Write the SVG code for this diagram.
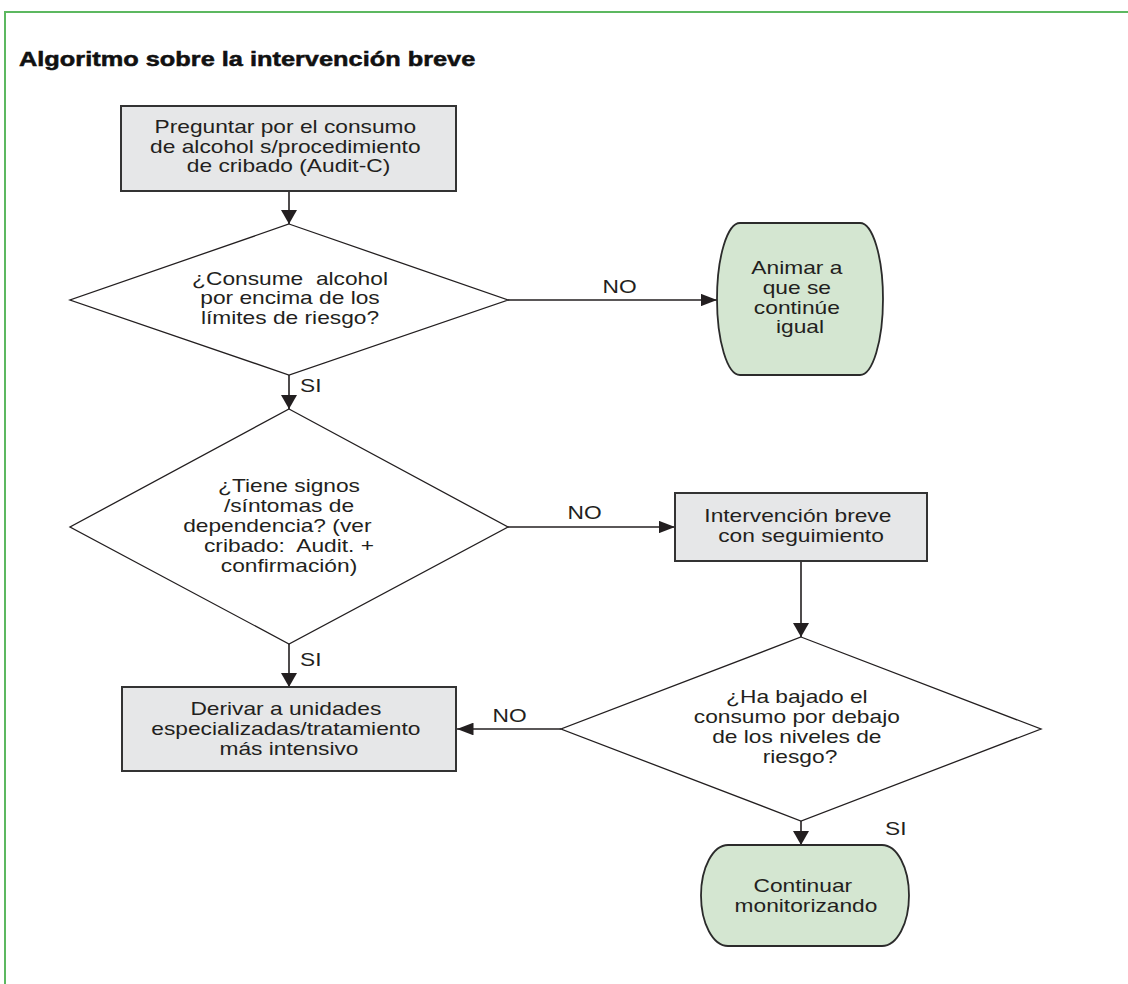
<svg xmlns="http://www.w3.org/2000/svg" width="1128" height="984" viewBox="0 0 1128 984">
<style>
.bg{fill:#ffffff}
.frame{fill:none;stroke:#5cb860;stroke-width:2}
.box{fill:#e6e7e8;stroke:#333333;stroke-width:2}
.term{fill:#d4e6d1;stroke:#2b2b2b;stroke-width:1.8}
.dia{fill:#ffffff;stroke:#231f20;stroke-width:1.3}
.conn{fill:none;stroke:#231f20;stroke-width:1.6}
.t{font-family:"Liberation Sans",Arial,Helvetica,sans-serif;font-size:17.5px;fill:#231f20;text-anchor:middle}
.lbl{font-family:"Liberation Sans",Arial,Helvetica,sans-serif;font-size:17.5px;fill:#231f20}
.title{font-family:"Liberation Sans",Arial,Helvetica,sans-serif;font-size:19.5px;font-weight:bold;fill:#111111;stroke:#111111;stroke-width:0.5}
</style>
<defs>
<marker id="av" viewBox="0 0 14 16" refX="14" refY="8" markerWidth="14" markerHeight="16" markerUnits="userSpaceOnUse" orient="auto">
<path d="M0,0 L14,8 L0,16 Z" fill="#231f20"/>
</marker>
<marker id="ah" viewBox="0 0 16.5 12.7" refX="16.5" refY="6.35" markerWidth="16.5" markerHeight="12.7" markerUnits="userSpaceOnUse" orient="auto">
<path d="M0,0 L16.5,6.35 L0,12.7 Z" fill="#231f20"/>
</marker>
</defs>
<rect class="bg" x="0" y="0" width="1128" height="984"/>
<path class="frame" d="M5,984 V12 H1128"/>
<text class="title" transform="translate(19,0) scale(1.3,1)" x="0" y="66.5">Algoritmo sobre la intervención breve</text>

<g id="connectors">
<line class="conn" x1="289" y1="191" x2="289" y2="224" marker-end="url(#av)"/>
<line class="conn" x1="508" y1="300" x2="717" y2="300" marker-end="url(#ah)"/>
<line class="conn" x1="289" y1="375" x2="289" y2="409" marker-end="url(#av)"/>
<line class="conn" x1="508" y1="527" x2="675" y2="527" marker-end="url(#ah)"/>
<line class="conn" x1="289" y1="644" x2="289" y2="687" marker-end="url(#av)"/>
<line class="conn" x1="801" y1="561" x2="801" y2="637" marker-end="url(#av)"/>
<line class="conn" x1="561" y1="729" x2="457" y2="729" marker-end="url(#ah)"/>
<line class="conn" x1="801" y1="821" x2="801" y2="845" marker-end="url(#av)"/>
<text class="lbl" transform="translate(619.5,0) scale(1.3,1)" x="0" y="293" text-anchor="middle">NO</text>
<text class="lbl" transform="translate(300,0) scale(1.3,1)" x="0" y="392">SI</text>
<text class="lbl" transform="translate(584.5,0) scale(1.3,1)" x="0" y="519" text-anchor="middle">NO</text>
<text class="lbl" transform="translate(300,0) scale(1.3,1)" x="0" y="666">SI</text>
<text class="lbl" transform="translate(509.5,0) scale(1.3,1)" x="0" y="722" text-anchor="middle">NO</text>
<text class="lbl" transform="translate(885,0) scale(1.3,1)" x="0" y="835">SI</text>
</g>

<g id="n-preguntar">
<rect class="box" x="121" y="106" width="335" height="85"/>
<text class="t" transform="translate(288.5,0) scale(1.3,1)">
<tspan x="0" y="133">Preguntar por el consumo</tspan>
<tspan x="0" y="153">de alcohol s/procedimiento</tspan>
<tspan x="0" y="172.5">de cribado (Audit-C)</tspan>
</text>
</g>

<g id="d-consume">
<polygon class="dia" points="289,224 508,300 289,375 70,300"/>
<text class="t" transform="translate(290,0) scale(1.3,1)" xml:space="preserve"><tspan x="0" y="285">¿Consume  alcohol</tspan><tspan x="0" y="304.5">por encima de los</tspan><tspan x="0" y="324">límites de riesgo?</tspan></text>
</g>

<g id="n-animar">
<rect class="term" x="717" y="223" width="166" height="152" rx="23" ry="76"/>
<text class="t" transform="translate(800,0) scale(1.3,1)">
<tspan x="0" y="274">Animar a</tspan>
<tspan x="0" y="294">que se</tspan>
<tspan x="0" y="314">continúe</tspan>
<tspan x="0" y="333">igual</tspan>
</text>
</g>

<g id="d-dependencia">
<polygon class="dia" points="289,409 508,527 289,644 70,527"/>
<text class="t" transform="translate(289,0) scale(1.3,1)" xml:space="preserve"><tspan x="0" y="492">¿Tiene signos</tspan><tspan x="0" y="512">/síntomas de</tspan><tspan x="-9" y="532">dependencia? (ver</tspan><tspan x="0" y="552">cribado:  Audit. +</tspan><tspan x="0" y="572">confirmación)</tspan></text>
</g>

<g id="n-intervencion">
<rect class="box" x="675" y="493" width="252" height="68"/>
<text class="t" transform="translate(801,0) scale(1.3,1)">
<tspan x="0" y="522">Intervención breve</tspan>
<tspan x="0" y="542">con seguimiento</tspan>
</text>
</g>

<g id="n-derivar">
<rect class="box" x="122" y="687" width="334" height="84"/>
<text class="t" transform="translate(289,0) scale(1.3,1)">
<tspan x="0" y="715">Derivar a unidades</tspan>
<tspan x="0" y="735">especializadas/tratamiento</tspan>
<tspan x="0" y="755">más intensivo</tspan>
</text>
</g>

<g id="d-bajado">
<polygon class="dia" points="801,637 1041,729 801,821 561,729"/>
<text class="t" transform="translate(800,0) scale(1.3,1)">
<tspan x="0" y="703">¿Ha bajado el</tspan>
<tspan x="0" y="723">consumo por debajo</tspan>
<tspan x="0" y="743">de los niveles de</tspan>
<tspan x="0" y="763">riesgo?</tspan>
</text>
</g>

<g id="n-continuar">
<rect class="term" x="701" y="845" width="208" height="101" rx="27" ry="50.5"/>
<text class="t" transform="translate(806,0) scale(1.3,1)">
<tspan x="0" y="892">Continuar</tspan>
<tspan x="0" y="912">monitorizando</tspan>
</text>
</g>
</svg>
